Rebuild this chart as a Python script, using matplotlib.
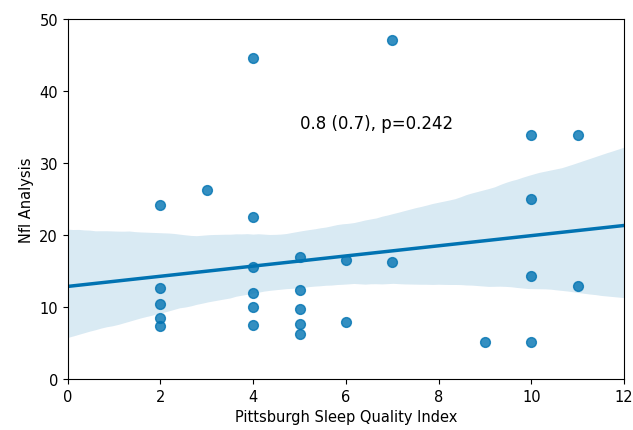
import matplotlib
matplotlib.use("Agg")
import matplotlib.pyplot as plt
import numpy as np
import seaborn as sns

# sleep quality index vs NfL values
psqi = [2, 2, 2, 2, 2, 3, 4, 4, 4, 4, 4, 4, 5, 5, 5, 5, 5,
        6, 6, 7, 7, 9, 10, 10, 10, 10, 11, 11]
nfl = [24.1, 12.7, 10.4, 8.5, 7.4, 26.3, 44.5, 22.5, 15.5, 12.0, 9.95, 7.55,
       16.9, 12.4, 9.8, 7.6, 6.3, 16.6, 7.95, 47.0, 16.2, 5.1, 33.9, 25.0,
       14.3, 5.1, 33.9, 12.9]
label = "0.8 (0.7), p=0.242"

fig, ax = plt.subplots(figsize=(6.33, 4.31), dpi=100)
fig.subplots_adjust(left=0.107, right=0.986, top=0.954, bottom=0.118)
ax.set_xlim(0, 12)
ax.set_ylim(0, 50)

sns.regplot(x=np.array(psqi), y=np.array(nfl), ax=ax, color="#0173b2",
            truncate=False, seed=3, scatter_kws={"s": 50},
            line_kws={"lw": 2.5})

ax.set_xlim(0, 12)
ax.set_ylim(0, 50)
ax.set_xlabel("Pittsburgh Sleep Quality Index", fontsize=10.5)
ax.set_ylabel("Nfl Analysis", fontsize=10.5)
ax.tick_params(labelsize=10.5)
ax.text(5, 34.8, label, fontsize=12)

fig.savefig("out.png", dpi=100)
